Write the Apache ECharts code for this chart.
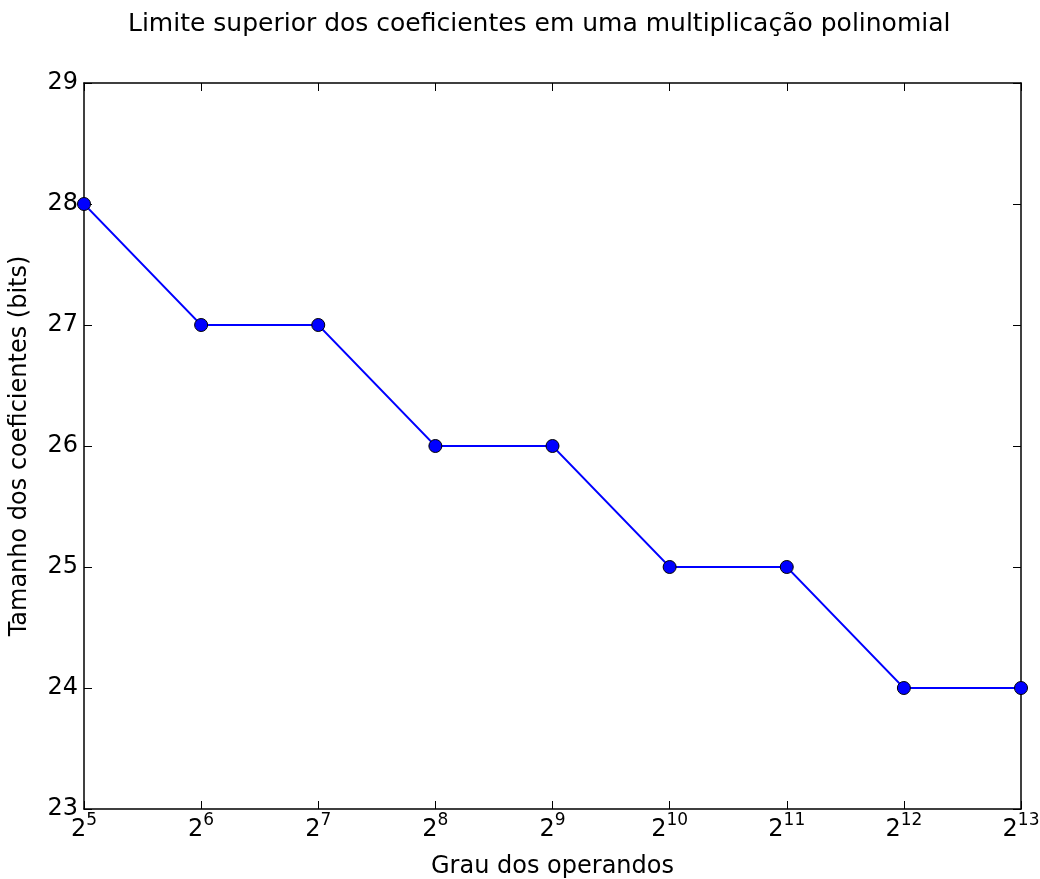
<!DOCTYPE html>
<html>
<head>
<meta charset="utf-8">
<script src="https://cdn.jsdelivr.net/npm/echarts@6/dist/echarts.min.js"></script>
<style>html,body{margin:0;padding:0;background:#fff;}#c{width:1040px;height:879px;}</style>
</head>
<body>
<div id="c"></div>
<script>
var degrees = [32, 64, 128, 256, 512, 1024, 2048, 4096, 8192];
var bits = [28, 27, 27, 26, 26, 25, 25, 24, 24];
var yTicks = [23, 24, 25, 26, 27, 28, 29];
var titleText = 'Limite superior dos coeficientes em uma multiplicação polinomial';
var xName = 'Grau dos operandos';
var yName = 'Tamanho dos coeficientes (bits)';

var font = 'DejaVu Sans';
var chart = echarts.init(document.getElementById('c'), null, {renderer: 'canvas'});
var data = degrees.map(function (d, i) { return [d, bits[i]]; });

var axisLineStyle = {color: '#000', width: 1.5};
var tickStyle = {show: true, inside: true, length: 8, lineStyle: {color: '#000', width: 1}};

chart.setOption({
  animation: false,
  backgroundColor: '#fff',
  title: {
    text: titleText, left: 123, top: 7,
    textStyle: {fontFamily: font, fontSize: 25, fontWeight: 'normal', color: '#000'}
  },
  grid: {left: 84, right: 19, top: 83, bottom: 70, containLabel: false, outerBoundsMode: 'none'},
  xAxis: [{
    type: 'log', logBase: 2, min: 32, max: 8192,
    name: xName, nameLocation: 'middle', nameGap: 46,
    nameTextStyle: {fontFamily: font, fontSize: 24, color: '#000'},
    axisLine: {show: true, lineStyle: axisLineStyle},
    axisTick: tickStyle,
    splitLine: {show: false},
    axisLabel: {
      margin: 3, color: '#000', fontFamily: font,
      formatter: function (v) { return '{b|2}{s|' + Math.round(Math.log2(v)) + '}'; },
      rich: {
        b: {fontFamily: font, fontSize: 24, color: '#000', lineHeight: 30, verticalAlign: 'bottom'},
        s: {fontFamily: font, fontSize: 17, color: '#000', lineHeight: 30, verticalAlign: 'top', padding: [0, 0, 12, 0]}
      }
    }
  }, {
    type: 'log', logBase: 2, min: 32, max: 8192, position: 'top',
    axisLine: {show: true, lineStyle: axisLineStyle},
    axisTick: tickStyle, axisLabel: {show: false}, splitLine: {show: false}
  }],
  yAxis: [{
    type: 'value', min: 23, max: 29, interval: 1,
    name: yName, nameLocation: 'middle', nameGap: 52, nameRotate: 90,
    nameTextStyle: {fontFamily: font, fontSize: 24, color: '#000'},
    axisLine: {show: true, lineStyle: axisLineStyle},
    axisTick: tickStyle,
    splitLine: {show: false},
    axisLabel: {margin: 6, color: '#000', fontFamily: font, fontSize: 24}
  }, {
    type: 'value', min: 23, max: 29, interval: 1, position: 'right',
    axisLine: {show: true, lineStyle: axisLineStyle},
    axisTick: tickStyle, axisLabel: {show: false}, splitLine: {show: false}
  }],
  series: [{
    type: 'line', data: data, xAxisIndex: 0, yAxisIndex: 0,
    symbol: 'circle', symbolSize: 13,
    lineStyle: {color: '#0000ff', width: 1.8},
    itemStyle: {color: '#0000ff', borderColor: '#000', borderWidth: 1},
    clip: true, z: 1
  }]
});
</script>
</body>
</html>
